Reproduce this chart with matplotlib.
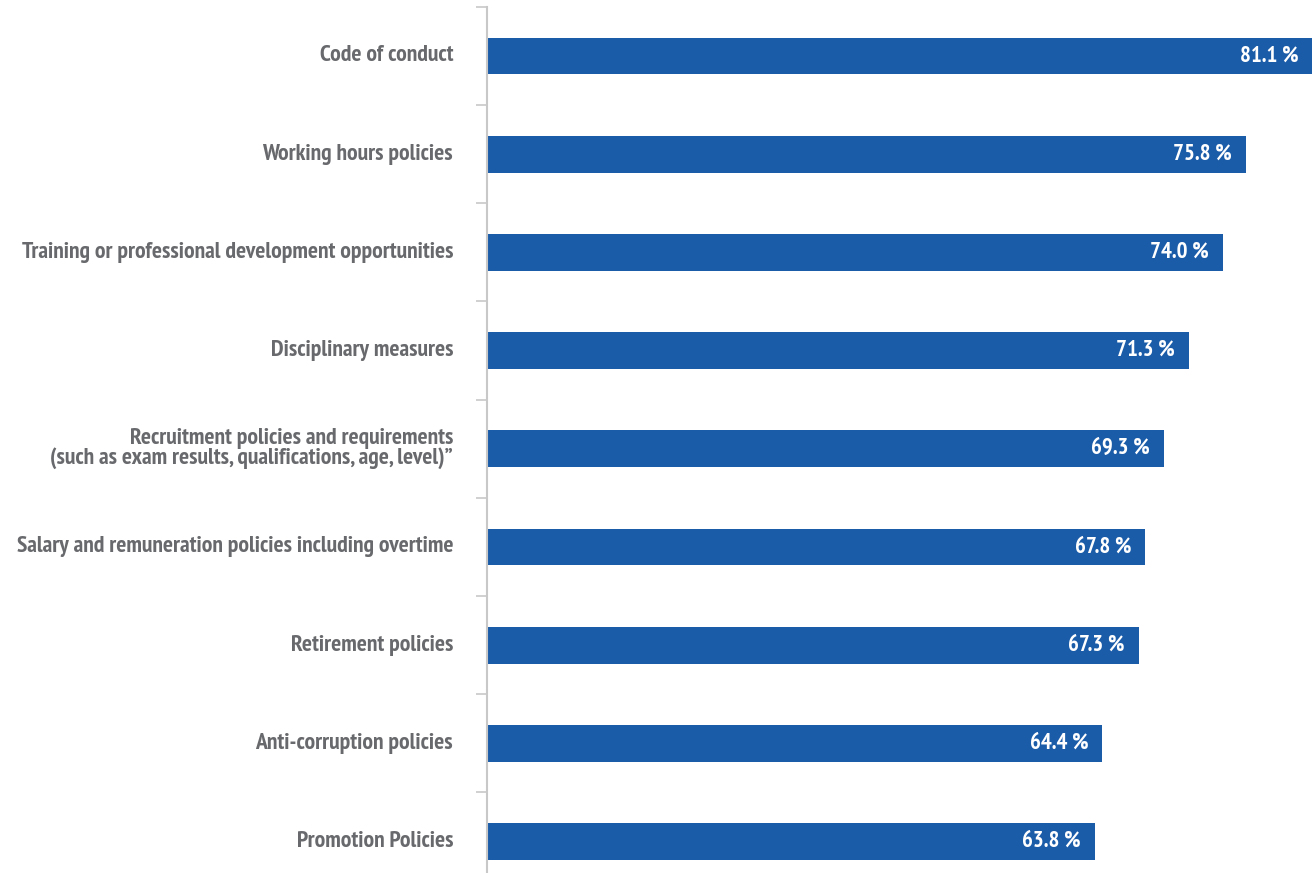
import os
import matplotlib
matplotlib.use("Agg")
import matplotlib.pyplot as plt
from matplotlib import font_manager
from matplotlib.font_manager import FontProperties

categories = [
    "Code of conduct",
    "Working hours policies",
    "Training or professional development opportunities",
    "Disciplinary measures",
    "Recruitment policies and requirements\n(such as exam results, qualifications, age, level)\u201d",
    "Salary and remuneration policies including overtime",
    "Retirement policies",
    "Anti-corruption policies",
    "Promotion Policies",
]
values = [81.1, 75.8, 74.0, 71.3, 69.3, 67.8, 67.3, 64.4, 63.8]

bar_color = "#1b5ca9"
label_color = "#68696c"


def narrow_bold_font():
    # look for the narrowest bold face that is installed
    ranked = []
    for f in font_manager.fontManager.ttflist:
        fn = os.path.basename(f.fname).lower()
        if "bold" not in fn or "italic" in fn or "oblique" in fn:
            continue
        if "semibold" in fn or "extrabold" in fn:
            continue
        if "narrow" in fn:
            ranked.append((0, f.fname))
        elif "extracondensed" in fn:
            ranked.append((1, f.fname))
        elif "condensed" in fn and "semi" not in fn:
            ranked.append((2, f.fname))
    if ranked:
        ranked.sort()
        return FontProperties(fname=ranked[0][1])
    return FontProperties(family="DejaVu Sans", weight="bold")


fp = narrow_bold_font()

fig = plt.figure(figsize=(13.16, 8.73), dpi=100)
ax = fig.add_axes([487 / 1316, 0, 1 - 487 / 1316, 1])

pos = list(range(len(categories)))
ax.barh(pos, values, height=0.375, color=bar_color)

for y, v in zip(pos, values):
    t = ax.text(v - 1.1, y, f"{v:.1f} %", ha="right", va="center", color="white",
                fontproperties=fp)
    t.set_fontsize(16.5)

for y, c in zip(pos, categories):
    t = ax.text(-0.041, y, c, transform=ax.get_yaxis_transform(), ha="right",
                va="center", color=label_color, fontproperties=fp, linespacing=0.9)
    t.set_fontsize(17)

ax.set_xlim(15.54, 81.39)
ax.set_ylim(8.32, -0.57)

ax.set_yticks([p - 0.5 for p in pos])
ax.set_yticklabels([])
ax.tick_params(axis="y", length=8, width=1.2, color="#c8c8c8")
ax.set_xticks([])
for s in ["top", "right", "bottom"]:
    ax.spines[s].set_visible(False)
ax.spines["left"].set_color("#c8c8c8")
ax.spines["left"].set_linewidth(1.5)
ax.spines["left"].set_bounds(-0.5, 8.32)

fig.savefig("out.png", dpi=100)
